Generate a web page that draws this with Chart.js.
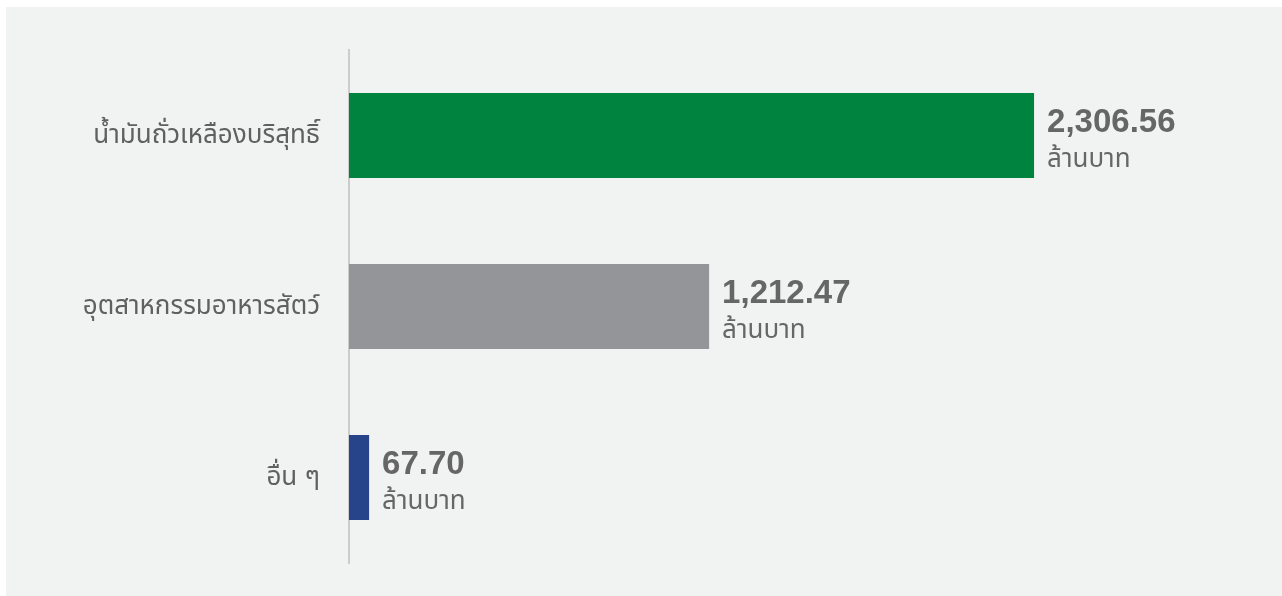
<!DOCTYPE html>
<html>
<head>
<meta charset="utf-8">
<script src="https://cdn.jsdelivr.net/npm/chart.js@4"></script>
<style>
  html, body { margin: 0; padding: 0; background: #ffffff; width: 1282px; height: 596px; overflow: hidden; }
  #wrap { position: absolute; left: 6px; top: 7px; width: 1276px; height: 589px; background: #f1f2f2; }
  canvas { display: block; }
</style>
</head>
<body>
<div id="wrap"><canvas id="c" width="1276" height="589" style="width:1276px;height:589px"></canvas></div>
<script>
const categories = ['น้ำมันถั่วเหลืองบริสุทธิ์', 'อุตสาหกรรมอาหารสัตว์', 'อื่น ๆ'];
const values = [2306.56, 1212.47, 67.70];
const unitLabel = 'ล้านบาท';
const xMax = 3000;

const barColors = ['#00833e', '#939598', '#27448a'];
const FONT = "'Liberation Sans', 'Noto Sans Thai', 'Noto Sans', sans-serif";

const valueLabels = {
  id: 'valueLabels',
  afterDatasetsDraw(chart) {
    const ctx = chart.ctx;
    const meta = chart.getDatasetMeta(0);
    ctx.save();
    ctx.fillStyle = '#666666';
    ctx.textAlign = 'left';
    ctx.textBaseline = 'alphabetic';
    meta.data.forEach((bar, i) => {
      const x = bar.x + 13;
      const y = bar.y;
      ctx.font = 'bold 33px ' + FONT;
      ctx.fillText(values[i].toLocaleString('en-US', {minimumFractionDigits: 2, maximumFractionDigits: 2}), x, y - 4);
      ctx.font = '26px ' + FONT;
      ctx.fillText(unitLabel, x, y + 31);
    });
    ctx.restore();
  }
};

new Chart(document.getElementById('c'), {
  type: 'bar',
  data: {
    labels: categories,
    datasets: [{
      data: values,
      backgroundColor: barColors,
      borderWidth: 0,
      categoryPercentage: 1,
      barPercentage: 0.497
    }]
  },
  options: {
    indexAxis: 'y',
    responsive: false,
    maintainAspectRatio: false,
    animation: false,
    layout: { padding: { left: 0, top: 43, bottom: 33, right: 42 } },
    plugins: { legend: { display: false }, tooltip: { enabled: false } },
    scales: {
      x: {
        min: 0, max: xMax,
        display: false
      },
      y: {
        grid: { display: false, drawTicks: false },
        border: { display: true, color: '#cccccc', width: 2 },
        ticks: { color: '#606060', font: { size: 26, family: FONT }, padding: 29 },
        afterFit(scale) {
          scale.width = 343;
          scale.paddingTop = 0;
          scale.paddingBottom = 0;
        }
      }
    }
  },
  plugins: [valueLabels]
});
</script>
</body>
</html>
